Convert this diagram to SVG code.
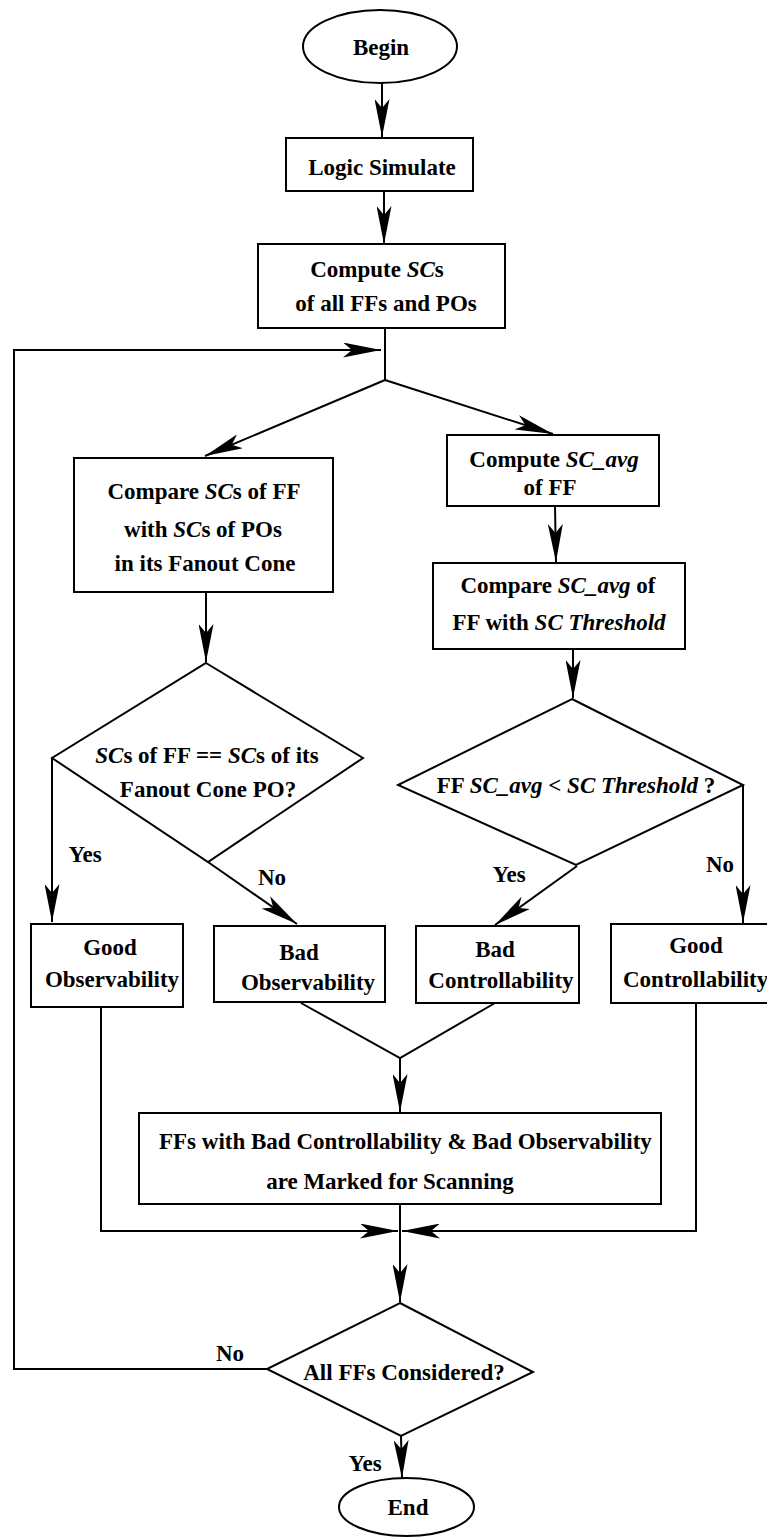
<svg xmlns="http://www.w3.org/2000/svg" width="767" height="1537" viewBox="0 0 767 1537">
  <style>
    .s { fill: #fff; stroke: #000; stroke-width: 2; }
    .c { fill: none; stroke: #000; stroke-width: 2; }
    .a { marker-end: url(#ah); }
    .t { font-family: "Liberation Serif", "Times New Roman", serif; font-weight: bold; font-size: 23px; fill: #000; text-anchor: middle; }
    .ts { text-anchor: start; }
    .i { font-style: italic; }
  </style>
  <defs>
    <marker id="ah" markerUnits="userSpaceOnUse" markerWidth="38" markerHeight="15" refX="38" refY="7.5" orient="auto" viewBox="0 0 38 15">
      <path d="M0,0 L38,7.5 L0,15 L9,7.5 Z" fill="#000"/>
    </marker>
  </defs>
  <rect width="767" height="1537" fill="#fff"/>

  <!-- connectors -->
  <g id="connectors">
    <line class="c a" x1="382" y1="83" x2="382" y2="137"/>
    <line class="c a" x1="384" y1="191" x2="384" y2="244"/>
    <line class="c" x1="385" y1="328" x2="385" y2="380"/>
    <line class="c a" x1="385" y1="380" x2="205" y2="456"/>
    <line class="c a" x1="385" y1="380" x2="553" y2="434"/>
    <polyline class="c a" points="267,1369 14,1369 14,350 381,350"/>
    <line class="c a" x1="206" y1="592" x2="206" y2="662"/>
    <line class="c a" x1="555" y1="506" x2="556" y2="562"/>
    <line class="c a" x1="573" y1="649" x2="573" y2="698"/>
    <line class="c a" x1="52" y1="758" x2="52" y2="922"/>
    <line class="c a" x1="208" y1="862" x2="297" y2="924"/>
    <line class="c a" x1="577" y1="866" x2="495" y2="925"/>
    <line class="c a" x1="743" y1="785" x2="743" y2="923"/>
    <polyline class="c" points="301,1003 400,1058 495,1003"/>
    <line class="c a" x1="400" y1="1058" x2="400" y2="1112"/>
    <line class="c a" x1="400" y1="1204" x2="400" y2="1302"/>
    <polyline class="c a" points="101,1006 101,1231 398,1231"/>
    <polyline class="c a" points="696,1003 696,1231 402,1231"/>
    <line class="c a" x1="401" y1="1436" x2="402" y2="1478"/>
  </g>

  <!-- start / end -->
  <g id="begin">
    <ellipse class="s" cx="380" cy="46.5" rx="77" ry="36.5"/>
    <text class="t" x="381" y="55">Begin</text>
  </g>
  <g id="logic-simulate">
    <rect class="s" x="286" y="138" width="187" height="53"/>
    <text class="t" x="382" y="175">Logic Simulate</text>
  </g>
  <g id="compute-scs">
    <rect class="s" x="258" y="244" width="247" height="84"/>
    <text class="t" x="377" y="277">Compute <tspan class="i">SC</tspan>s</text>
    <text class="t" x="386" y="311">of all FFs and POs</text>
  </g>

  <!-- observability branch -->
  <g id="compare-scs">
    <rect class="s" x="74" y="458" width="259" height="134"/>
    <text class="t" x="204" y="499">Compare <tspan class="i">SC</tspan>s of FF</text>
    <text class="t" x="203" y="537">with <tspan class="i">SC</tspan>s of POs</text>
    <text class="t" x="205" y="571">in its Fanout Cone</text>
  </g>
  <g id="obs-decision">
    <polygon class="s" points="206,663 363,758 208,862 52,758"/>
    <text class="t" x="207" y="763"><tspan class="i">SC</tspan>s of FF == <tspan class="i">SC</tspan>s of its</text>
    <text class="t" x="208" y="797">Fanout Cone PO?</text>
    <text class="t" x="85" y="862">Yes</text>
    <text class="t" x="272" y="885">No</text>
  </g>
  <g id="good-observability">
    <rect class="s" x="31" y="924" width="152" height="83"/>
    <text class="t" x="110" y="955">Good</text>
    <text class="t" x="112" y="987">Observability</text>
  </g>
  <g id="bad-observability">
    <rect class="s" x="214" y="926" width="171" height="76"/>
    <text class="t" x="299" y="960">Bad</text>
    <text class="t" x="308" y="990">Observability</text>
  </g>

  <!-- controllability branch -->
  <g id="compute-scavg">
    <rect class="s" x="447" y="435" width="212" height="71"/>
    <text class="t" x="554" y="467">Compute <tspan class="i">SC_avg</tspan></text>
    <text class="t" x="550" y="495">of FF</text>
  </g>
  <g id="compare-scavg">
    <rect class="s" x="433" y="563" width="252" height="86"/>
    <text class="t" x="558" y="593">Compare <tspan class="i">SC_avg</tspan> of</text>
    <text class="t" x="559" y="630">FF with <tspan class="i">SC Threshold</tspan></text>
  </g>
  <g id="ctrl-decision">
    <polygon class="s" points="572,699 743,785 576,865 398,785"/>
    <text class="t" x="576" y="793">FF <tspan class="i">SC_avg &lt; SC Threshold</tspan> ?</text>
    <text class="t" x="509" y="882">Yes</text>
    <text class="t" x="720" y="872">No</text>
  </g>
  <g id="bad-controllability">
    <rect class="s" x="416" y="926" width="163" height="77"/>
    <text class="t" x="495" y="957">Bad</text>
    <text class="t" x="501" y="988">Controllability</text>
  </g>
  <g id="good-controllability">
    <rect class="s" x="611" y="924" width="160" height="79"/>
    <text class="t" x="696" y="953">Good</text>
    <text class="t ts" x="623" y="987">Controllability</text>
  </g>

  <!-- marking and loop control -->
  <g id="mark-for-scan">
    <rect class="s" x="139" y="1113" width="522" height="91"/>
    <text class="t ts" x="159" y="1149">FFs with Bad Controllability &amp; Bad Observability</text>
    <text class="t" x="390" y="1189">are Marked for Scanning</text>
  </g>
  <g id="all-considered">
    <polygon class="s" points="400,1303 533,1372 401,1436 267,1369"/>
    <text class="t" x="404" y="1380">All FFs Considered?</text>
    <text class="t" x="230" y="1361">No</text>
    <text class="t" x="365" y="1471">Yes</text>
  </g>
  <g id="end">
    <ellipse class="s" cx="406.5" cy="1507" rx="67.5" ry="29"/>
    <text class="t" x="408" y="1515">End</text>
  </g>
</svg>
